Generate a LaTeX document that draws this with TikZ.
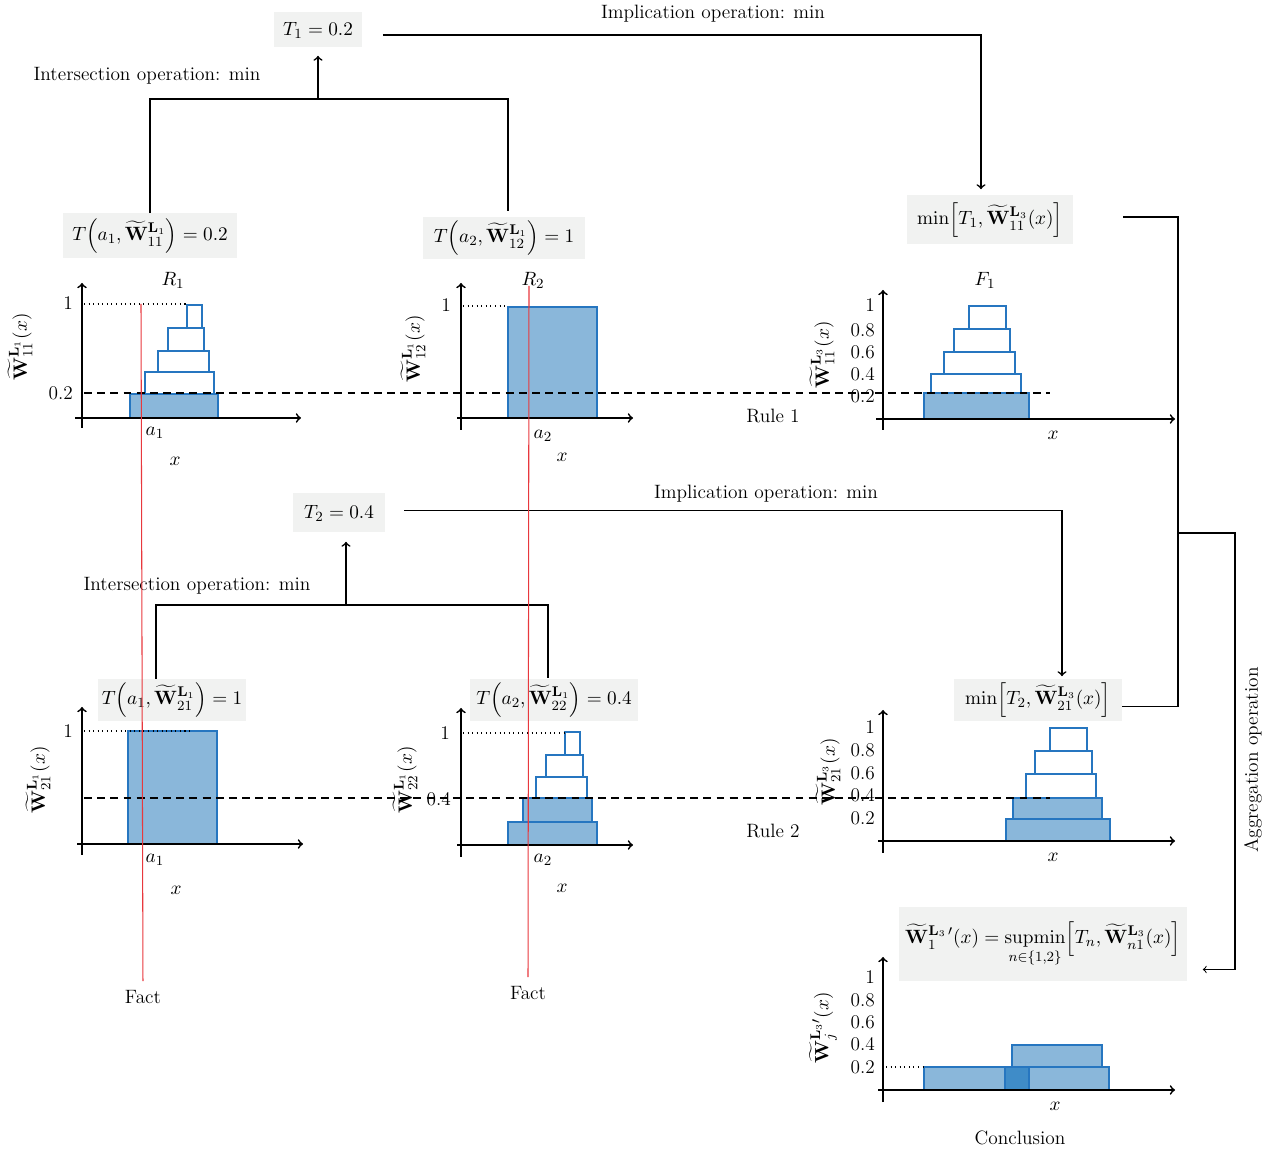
\documentclass[tikz,border=0pt]{standalone}
\usepackage{amsmath}
\usetikzlibrary{shapes, arrows}
\definecolor{boxgray}{RGB}{241,242,241}
\definecolor{setfill}{RGB}{138,183,218}
\definecolor{setedge}{RGB}{38,118,192}
\definecolor{setdark}{RGB}{63,140,200}
\definecolor{factred}{RGB}{232,56,61}
\tikzstyle{opbox} = [rectangle, fill=boxgray, inner sep=2pt, text centered]
\tikzstyle{lbl} = [inner sep=1pt]
\tikzstyle{tick} = [inner sep=1pt, anchor=east]
\tikzstyle{line} = [draw, line width=0.6pt]
\tikzstyle{arrowline} = [draw, ->, line width=0.9pt]
\tikzstyle{axisline} = [draw, ->, line width=1pt]
\tikzstyle{fullset} = [draw=setedge, fill=setfill, line width=0.6pt]
\tikzstyle{openset} = [draw=setedge, fill=white, line width=0.6pt]
\tikzstyle{cutline} = [draw, dash pattern=on 4.5pt off 3pt, line width=0.6pt]
\tikzstyle{guide} = [draw, dotted, line width=0.6pt]
\tikzstyle{factline} = [draw=factred, line width=0.6pt]
\newcommand{\Wset}{\widetilde{\mathbf{W}}}

\begin{document}
\begin{tikzpicture}[x=0.02cm, y=-0.02cm, >=to, font=\fontsize{11}{13}\selectfont]
            \useasboundingbox (0,0) rectangle (1272,1151);

            % Nodes of diagram
            % Rule 1
            \node (t1) [opbox, minimum width=1.78cm, minimum height=0.7cm] at (318,30) {$T_1 = 0.2$};
            \node (impl1) [lbl] at (713,14) {Implication operation: min};
            \node (inter1) [lbl] at (147,76) {Intersection operation: min};
            \node (ta11) [opbox, minimum width=3.5cm, minimum height=0.9cm] at (150,236) {$T\Big(a_1, \Wset^{\mathbf{L}_1}_{11}\Big) = 0.2$};
            \node (ta12) [opbox, minimum width=3.24cm, minimum height=0.8cm] at (504,238) {$T\Big(a_2, \Wset^{\mathbf{L}_1}_{12}\Big) = 1$};
            \node (min1) [opbox, minimum width=3.32cm, minimum height=0.98cm] at (990,220) {$\mathrm{min}\Big[T_1, \Wset^{\mathbf{L}_3}_{11}(x)\Big]$};
            \node (rule1) [lbl] at (773,416) {Rule 1};

            % Rule 2
            \node (t2) [opbox, minimum width=1.84cm, minimum height=0.78cm] at (339,513) {$T_2 = 0.4$};
            \node (impl2) [lbl] at (766,494) {Implication operation: min};
            \node (inter2) [lbl] at (197,586) {Intersection operation: min};
            \node (ta21) [opbox, minimum width=2.84cm, minimum height=0.68cm] at (172,700) {$T\Big(a_1, \Wset^{\mathbf{L}_1}_{21}\Big) = 1$};
            \node (ta22) [opbox, minimum width=3.38cm, minimum height=0.86cm] at (554,700) {$T\Big(a_2, \Wset^{\mathbf{L}_1}_{22}\Big) = 0.4$};
            \node (min2) [opbox, minimum width=3.36cm, minimum height=0.86cm] at (1038,700) {$\mathrm{min}\Big[T_2, \Wset^{\mathbf{L}_3}_{21}(x)\Big]$};
            \node (rule2) [lbl] at (773,831) {Rule 2};

            % Aggregation
            \node (concl) [opbox, minimum width=5.78cm, minimum height=1.5cm] at (1043,944) {$\Wset^{\mathbf{L}_3\,\prime}_{1}(x) = \mathop{\mathrm{supmin}}\limits_{n\in\{1,2\}}\!\Big[T_n, \Wset^{\mathbf{L}_3}_{n1}(x)\Big]$};
            \node (aggrlbl) [lbl, rotate=90] at (1253,760) {Aggregation operation};
            \node (conclusion) [lbl] at (1020,1138) {Conclusion};

            % Facts
            \node (fact1) [lbl] at (143,997) {Fact};
            \node (fact2) [lbl] at (528,993) {Fact};

            % Joints
            \coordinate (join1) at (318,99);
            \coordinate (join2) at (346,605);
            \coordinate (aggr) at (1178,533);
            \coordinate (aggr2) at (1235,533);

            % Charts
            % R1
            \draw[fullset] (130,394) rectangle (218,418);
            \draw[openset] (145,372) rectangle (214,394);
            \draw[openset] (158,351) rectangle (209,372);
            \draw[openset] (168,328) rectangle (204,351);
            \draw[openset] (187,305) rectangle (202,328);
            \path[guide] (84,304) -- (187,304);
            \path[axisline] (82,428) -- (82,283);
            \path[axisline] (75,418) -- (301,418);
            \node (r1) [lbl] at (173,280) {$R_1$};
            \node (r1one) [tick] at (75,303) {1};
            \node (r1cut) [tick] at (75,393) {0.2};
            \node (r1a) [lbl] at (155,433) {$a_1$};
            \node (r1x) [lbl] at (175,461) {$x$};
            \node (r1y) [lbl, rotate=90] at (20,347) {$\Wset^{\mathbf{L}_1}_{11}(x)$};

            % R2
            \draw[fullset] (508,307) rectangle (597,418);
            \path[guide] (463,306) -- (508,306);
            \path[axisline] (461,430) -- (461,283);
            \path[axisline] (457,418) -- (633,418);
            \node (r2) [lbl] at (533,280) {$R_2$};
            \node (r2one) [tick] at (453,305) {1};
            \node (r2a) [lbl] at (543,436) {$a_2$};
            \node (r2x) [lbl] at (562,457) {$x$};
            \node (r2y) [lbl, rotate=90] at (413,349) {$\Wset^{\mathbf{L}_1}_{12}(x)$};

            % F1
            \draw[fullset] (924,393) rectangle (1029,419);
            \draw[openset] (931,374) rectangle (1021,393);
            \draw[openset] (944,352) rectangle (1015,374);
            \draw[openset] (954,329) rectangle (1010,352);
            \draw[openset] (969,306) rectangle (1006,329);
            \path[axisline] (883,430) -- (883,290);
            \path[axisline] (876,419) -- (1175,419);
            \node (f1) [lbl] at (985,280) {$F_1$};
            \node (f1one) [tick] at (877,305) {1};
            \node (f1p8) [tick] at (877,330) {0.8};
            \node (f1p6) [tick] at (877,352) {0.6};
            \node (f1p4) [tick] at (877,374) {0.4};
            \node (f1p2) [tick] at (877,396) {0.2};
            \node (f1x) [lbl] at (1053,435) {$x$};
            \node (f1y) [lbl, rotate=90] at (822,355) {$\Wset^{\mathbf{L}_3}_{11}(x)$};

            \path[cutline] (84,393) -- (1050,393);

            % R1 of rule 2
            \draw[fullset] (128,731) rectangle (217,844);
            \path[guide] (84,731) -- (190,731);
            \path[axisline] (82,855) -- (82,707);
            \path[axisline] (77,844) -- (303,844);
            \node (s1one) [tick] at (75,731) {1};
            \node (s1a) [lbl] at (155,860) {$a_1$};
            \node (s1x) [lbl] at (176,890) {$x$};
            \node (s1y) [lbl, rotate=90] at (38,780) {$\Wset^{\mathbf{L}_1}_{21}(x)$};

            % R2 of rule 2
            \draw[fullset] (508,822) rectangle (597,845);
            \draw[fullset] (523,798) rectangle (592,822);
            \draw[openset] (536,777) rectangle (587,798);
            \draw[openset] (546,755) rectangle (583,777);
            \draw[openset] (565,732) rectangle (580,755);
            \path[guide] (463,733) -- (565,733);
            \path[axisline] (461,857) -- (461,708);
            \path[axisline] (457,845) -- (633,845);
            \node (s2one) [tick] at (452,733) {1};
            \node (s2cut) [tick] at (453,799) {0.4};
            \node (s2a) [lbl] at (543,860) {$a_2$};
            \node (s2x) [lbl] at (562,888) {$x$};
            \node (s2y) [lbl, rotate=90] at (405,780) {$\Wset^{\mathbf{L}_1}_{22}(x)$};

            % F1 of rule 2
            \draw[fullset] (1006,819) rectangle (1110,841);
            \draw[fullset] (1013,798) rectangle (1102,819);
            \draw[openset] (1026,774) rectangle (1096,798);
            \draw[openset] (1035,751) rectangle (1092,774);
            \draw[openset] (1050,728) rectangle (1087,751);
            \path[axisline] (883,853) -- (883,710);
            \path[axisline] (878,841) -- (1175,841);
            \node (g1one) [tick] at (877,727) {1};
            \node (g1p8) [tick] at (877,750) {0.8};
            \node (g1p6) [tick] at (877,773) {0.6};
            \node (g1p4) [tick] at (877,795) {0.4};
            \node (g1p2) [tick] at (877,818) {0.2};
            \node (g1x) [lbl] at (1053,857) {$x$};
            \node (g1y) [lbl, rotate=90] at (828,772) {$\Wset^{\mathbf{L}_3}_{21}(x)$};

            \path[cutline] (84,798) -- (1050,798);

            % Conclusion
            \draw[fullset] (924,1067) rectangle (1005,1090);
            \draw[fullset, fill=setdark] (1005,1067) rectangle (1029,1090);
            \draw[fullset] (1029,1067) rectangle (1109,1090);
            \draw[fullset] (1012,1045) rectangle (1102,1067);
            \path[guide] (886,1067) -- (924,1067);
            \path[axisline] (883,1102) -- (883,957);
            \path[axisline] (878,1090) -- (1175,1090);
            \node (c1one) [tick] at (877,977) {1};
            \node (c1p8) [tick] at (877,1000) {0.8};
            \node (c1p6) [tick] at (877,1022) {0.6};
            \node (c1p4) [tick] at (877,1044) {0.4};
            \node (c1p2) [tick] at (877,1067) {0.2};
            \node (c1x) [lbl] at (1055,1106) {$x$};
            \node (c1y) [lbl, rotate=90] at (823,1028) {$\Wset^{\mathbf{L}_3\prime}_{j}(x)$};

            % Draw lines
            % Rule 1
            \path [line, shorten >=0.12cm] (ta11.north) |- (join1) -| ([xshift=0.08cm] ta12.north);
            \path [arrowline, shorten >=0.16cm] (join1) -- (t1);
            \path [arrowline, shorten >=0.12cm] ([xshift=0.4cm, yshift=-0.1cm] t1.east) -| ([xshift=-0.18cm] min1.north);

            % Rule 2
            \path [line] ([xshift=-0.32cm] ta21.north) |- (join2) -| ([xshift=-0.12cm] ta22.north);
            \path [arrowline, shorten >=0.18cm] (join2) -- (join2 |- t2.south);
            \path [arrowline, shorten >=0.04cm] ([xshift=0.38cm, yshift=0.05cm] t2.east) -| ([xshift=0.48cm] min2.north);

            % Aggregation
            \path [line] ([xshift=1cm, yshift=0.06cm] min1.east) -| (aggr) |- ([yshift=-0.13cm] min2.east);
            \path [line, ->] (aggr) -- (aggr2) |- ([xshift=0.3cm, yshift=-0.51cm] concl.east);

            % Facts
            \path [factline, shorten <=0.14cm] (fact1.north) -- (141,304);
            \path [factline, shorten <=0.14cm] (fact2.north) -- (529,286);
        \end{tikzpicture}
\end{document}
